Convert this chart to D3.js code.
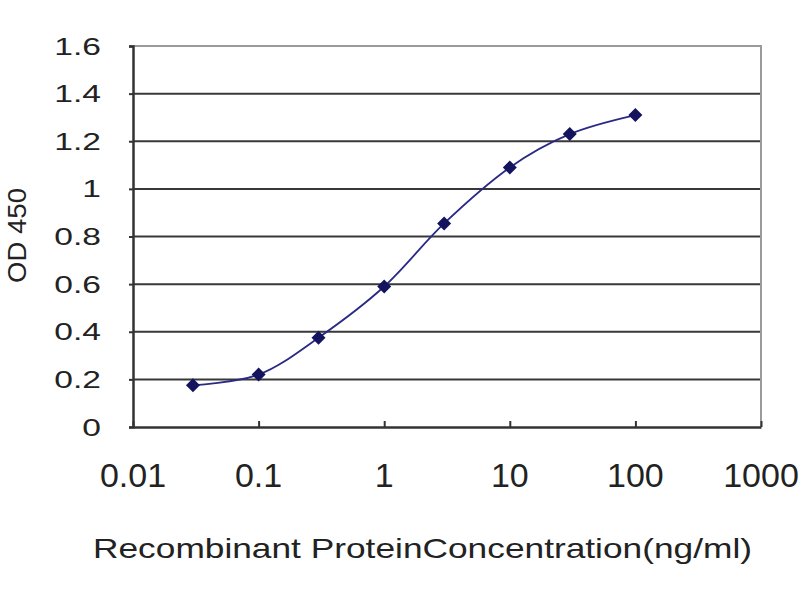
<!DOCTYPE html>
<html>
<head>
<meta charset="utf-8">
<script src="https://cdn.jsdelivr.net/npm/d3@7"></script>
<style>
  body { margin: 0; background: #fff; }
  text { font-family: "Liberation Sans", Arial, sans-serif; fill: #222; }
</style>
</head>
<body>
<div class="chart-div"></div>
<script>
//--------------------------- Data

var concentrations = [0.03, 0.1, 0.3, 1, 3, 10, 30, 100];
var odValues = [0.175, 0.22, 0.375, 0.59, 0.855, 1.09, 1.23, 1.31];
var xTicks = [0.01, 0.1, 1, 10, 100, 1000];
var xTickLabels = ["0.01", "0.1", "1", "10", "100", "1000"];
var yTicks = [0, 0.2, 0.4, 0.6, 0.8, 1, 1.2, 1.4, 1.6];
var yTickLabels = ["0", "0.2", "0.4", "0.6", "0.8", "1", "1.2", "1.4", "1.6"];

//--------------------------- SVG definition

var width = 800;
var height = 600;

var svg = d3.select("div.chart-div")
    .append("svg")
    .attr("width", width)
    .attr("height", height)

var plotLeft = 133, plotRight = 761, plotTop = 46, plotBottom = 427;

var x = d3.scaleLog()
    .domain([0.01, 1000])
    .range([plotLeft, plotRight]);

var y = d3.scaleLinear()
    .domain([0, 1.6])
    .range([plotBottom, plotTop]);

//--------------------------- Grid and frame

svg.append("g")
    .selectAll("line")
    .data(yTicks.filter(function (d) { return d > 0 && d < 1.6; }))
    .enter()
    .append("line")
    .attr("x1", plotLeft)
    .attr("x2", plotRight)
    .attr("y1", function (d) { return y(d); })
    .attr("y2", function (d) { return y(d); })
    .style("stroke", "#383838")
    .style("stroke-width", 2)

// top and right border of plot area (lighter)
svg.append("path")
    .attr("d", "M" + plotLeft + "," + plotTop + "H" + plotRight + "V" + plotBottom)
    .style("fill", "none")
    .style("stroke", "#9a9a9a")
    .style("stroke-width", 2)

// y axis
var yAxis = svg.append("g")
    .attr("transform", "translate(" + plotLeft + ",0)")
    .call(d3.axisLeft(y).tickValues(yTicks).tickSize(4).tickFormat(""))
yAxis.select(".domain").style("stroke", "#333").style("stroke-width", 2.5)
yAxis.selectAll(".tick line").style("stroke", "#333").style("stroke-width", 2)

// x axis, ticks pointing inward
var xAxis = svg.append("g")
    .attr("transform", "translate(0," + plotBottom + ")")
    .call(d3.axisBottom(x).tickValues(xTicks).tickSize(-6).tickSizeOuter(0).tickFormat(""))
xAxis.select(".domain").style("stroke", "#333").style("stroke-width", 2.5)
xAxis.selectAll(".tick line").style("stroke", "#333").style("stroke-width", 2)

//--------------------------- Tick labels

svg.append("g")
    .selectAll("text")
    .data(yTicks)
    .enter()
    .append("text")
    .attr("transform", function (d) { return "translate(101," + (y(d) + 8.5) + ") scale(1.4,1)"; })
    .attr("text-anchor", "end")
    .style("font-size", "24px")
    .text(function (d, i) { return yTickLabels[i]; })

svg.append("g")
    .selectAll("text")
    .data(xTicks)
    .enter()
    .append("text")
    .attr("x", function (d) { return x(d); })
    .attr("y", 487)
    .attr("text-anchor", "middle")
    .style("font-size", "34px")
    .text(function (d, i) { return xTickLabels[i]; })

//--------------------------- Axis titles

svg.append("text")
    .attr("x", 93)
    .attr("y", 558)
    .attr("textLength", 659)
    .attr("lengthAdjust", "spacingAndGlyphs")
    .style("font-size", "28px")
    .text("Recombinant ProteinConcentration(ng/ml)")

svg.append("text")
    .attr("transform", "translate(26,283) rotate(-90)")
    .attr("textLength", 95)
    .attr("lengthAdjust", "spacingAndGlyphs")
    .style("font-size", "25px")
    .text("OD 450")

//--------------------------- Curve and markers

var points = concentrations.map(function (c, i) { return [x(c), y(odValues[i])]; });

var lineGenerator = d3.line()
    .curve(d3.curveCardinal);

svg.append("path")
    .attr("d", lineGenerator(points))
    .style("fill", "none")
    .style("stroke", "#2a2a86")
    .style("stroke-width", 1.8)

svg.append("g")
    .selectAll("path")
    .data(points)
    .enter()
    .append("path")
    .attr("d", "M0,-7L7,0L0,7L-7,0Z")
    .attr("transform", function (d) { return "translate(" + d[0] + "," + d[1] + ")"; })
    .style("fill", "#14145e")
</script>
</body>
</html>
